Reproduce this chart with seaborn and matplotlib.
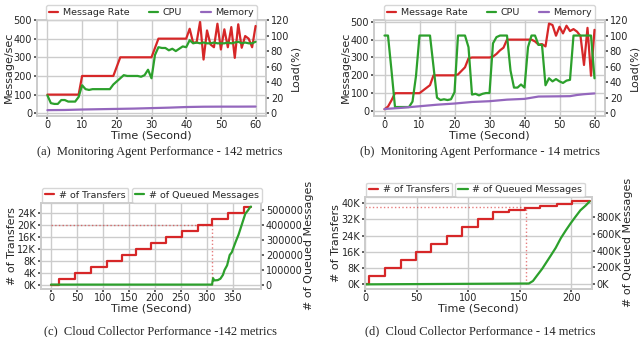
import numpy as np
import pandas as pd
import matplotlib
matplotlib.use('Agg')
import matplotlib.pyplot as plt
import seaborn as sns
from matplotlib.ticker import FuncFormatter

# (a) monitoring agent, 142 metrics
t_ab = list(range(61))
rate_a = [100, 100, 100, 100, 100, 100, 100, 100, 100, 100,
          200, 200, 200, 200, 200, 200, 200, 200, 200, 200,
          250, 300, 300, 300, 300, 300, 300, 300, 300, 300, 300,
          350, 400, 400, 400, 400, 400, 400, 400, 400, 400,
          453, 378, 380, 491, 288, 444, 369, 354, 480, 342,
          450, 354, 462, 297, 477, 351, 414, 400, 354, 468]
cpu_a = [23, 13, 12, 12, 17, 17, 15, 15, 15, 21,
         36, 31, 30, 31, 31, 31, 31, 31, 31, 37,
         41, 45, 49, 48, 48, 48, 48, 47, 49, 56,
         45, 75, 85, 84, 84, 81, 83, 80, 83, 86,
         85, 94, 90, 91, 90, 91, 90, 90, 91, 90,
         90, 90, 91, 90, 91, 92, 90, 91, 90, 90, 92]
mem_t_a = [0, 5, 10, 15, 20, 25, 30, 35, 40, 45, 50, 55, 60]
mem_a = [4.0, 4.2, 4.8, 5.2, 5.6, 6.0, 6.6, 7.2, 8.0, 8.4, 8.5, 8.5, 8.6]

# (b) monitoring agent, 14 metrics
rate_b = [10, 25, 60, 100, 100, 100, 100, 100, 100, 100,
          100, 115, 130, 145, 200, 200, 200, 200, 200, 200,
          200, 205, 225, 245, 295, 300, 300, 300, 300, 300,
          300, 305, 320, 340, 355, 400, 400, 400, 400, 400,
          400, 400, 400, 390, 372, 375, 362, 490, 482, 422,
          472, 435, 478, 448, 459, 445, 420, 258, 466, 198, 455]
cpu_b = [100, 100, 55, 8, 8, 8, 8, 8, 15, 48,
         100, 100, 100, 100, 60, 20, 17, 18, 17, 18,
         27, 100, 100, 100, 85, 24, 25, 23, 25, 26,
         26, 90, 98, 100, 100, 100, 55, 33, 33, 37,
         33, 85, 100, 100, 88, 88, 36, 45, 41, 44,
         41, 39, 42, 43, 100, 100, 100, 100, 100, 100, 45]
mem_t_b = [0, 5, 10, 15, 20, 25, 30, 35, 40, 44, 50, 53, 55, 57, 60]
mem_b = [5.5, 7.0, 9.0, 11.0, 12.5, 14.5, 15.5, 17.5, 18.5, 21.5, 21.8, 22.0, 23.5, 24.5, 25.5]

# (c) cloud collector, 142 metrics
tr_t_c = [0, 16, 46, 77, 107, 136, 164, 193, 222, 253, 283, 310, 340, 372, 385]
tr_c = [0, 2000, 4000, 6000, 8000, 10000, 12000, 14000, 16000, 18000,
        20000, 22000, 24000, 26000, 26000]
q_t_c = [0, 310, 312, 314, 321, 326, 331, 334, 339, 344, 348, 352, 356,
         361, 364, 369, 374, 379, 383, 385]
q_c = [0, 0, 43000, 28000, 30000, 39000, 65000, 97000, 129000, 198000,
       216000, 254000, 291000, 334000, 366000, 420000, 474000, 496000,
       517000, 522000]
mark_c = (310, 20000)

# (d) cloud collector, 14 metrics
tr_t_d = [0, 4, 19.5, 34.5, 49.5, 64.5, 79.5, 94.5, 109.5, 124.5, 139.5,
          155, 170, 186, 201, 218]
tr_d = [0, 4000, 8000, 12000, 16000, 20000, 24000, 28000, 32000, 35800,
        36800, 37600, 38600, 39600, 40800, 40800]
q_t_d = [0, 159, 163, 167, 172, 176, 180, 185, 190, 195, 199.5, 204, 209,
         214, 218]
q_d = [0, 10000, 40000, 105000, 185000, 260000, 335000, 430000, 545000,
       640000, 720000, 795000, 875000, 930000, 980000]
mark_d = (156, 38000)

captions = ['(a)  Monitoring Agent Performance - 142 metrics',
            '(b)  Monitoring Agent Performance - 14 metrics',
            '(c)  Cloud Collector Performance -142 metrics',
            '(d)  Cloud Collector Performance - 14 metrics']

sns.set_theme(style='whitegrid', rc={'xtick.bottom': True, 'ytick.left': True,
                                     'axes.edgecolor': '.8'})
plt.rcParams['font.family'] = ['DejaVu Sans']

RED, GREEN, PURPLE = '#d62728', '#2ca02c', '#9467bd'
TICK, LAB, LEG = 7, 8, 6.8

fig = plt.figure(figsize=(6.4, 3.37), dpi=100)


def style_axes(ax, ax2):
    ax2.grid(False)
    for a in (ax, ax2):
        a.tick_params(labelsize=TICK, pad=1, length=2.5, color='.3')
    ax.xaxis.labelpad = 0
    ax.yaxis.labelpad = 0
    ax2.yaxis.labelpad = 1


def agent_panel(rect, rate, cpu, mem_t, mem, ylim_l, ylim_r):
    ax = fig.add_axes(rect)
    ax2 = ax.twinx()
    sns.lineplot(x=t_ab, y=rate, ax=ax, color=RED, lw=1.6, label='Message Rate', legend=False)
    sns.lineplot(x=t_ab, y=cpu, ax=ax2, color=GREEN, lw=1.6, label='CPU', legend=False)
    sns.lineplot(x=mem_t, y=mem, ax=ax2, color=PURPLE, lw=1.6, label='Memory', legend=False)
    ax.set_ylim(*ylim_l)
    ax2.set_ylim(*ylim_r)
    ax.set_yticks([0, 100, 200, 300, 400, 500])
    ax2.set_yticks([0, 20, 40, 60, 80, 100, 120])
    ax.set_xticks([0, 10, 20, 30, 40, 50, 60])
    ax.set_xlabel('Time (Second)', fontsize=LAB)
    ax.set_ylabel('Message/sec', fontsize=LAB)
    ax2.set_ylabel('Load(%)', fontsize=LAB)
    style_axes(ax, ax2)
    h1, l1 = ax.get_legend_handles_labels()
    h2, l2 = ax2.get_legend_handles_labels()
    ax2.legend(h1 + h2, l1 + l2, loc='lower center', bbox_to_anchor=(0.5, 0.99),
               ncol=3, fontsize=LEG, handlelength=1.0, columnspacing=2.0,
               handletextpad=0.5, borderaxespad=0.1, borderpad=0.3, frameon=True)
    return ax, ax2


def collector_panel(rect, tr_t, tr, q_t, q, mark, xlim, xticks, yticks_l, yticks_r,
                    fmt_r, leg2_x):
    ax = fig.add_axes(rect)
    ax2 = ax.twinx()
    sns.lineplot(x=tr_t, y=tr, ax=ax, color=RED, lw=1.6, drawstyle='steps-post',
                 label='# of Transfers', legend=False)
    sns.lineplot(x=q_t, y=q, ax=ax2, color=GREEN, lw=1.6,
                 label='# of Queued Messages', legend=False)
    ax.plot([0, mark[0]], [mark[1], mark[1]], ls=':', color=RED, lw=1.0, alpha=0.6)
    ax.plot([mark[0], mark[0]], [0, mark[1]], ls=':', color=RED, lw=1.0, alpha=0.6)
    if xlim is not None:
        ax.set_xlim(*xlim)
    ax.set_xticks(xticks)
    ax.set_yticks(yticks_l)
    ax2.set_yticks(yticks_r)
    ax.yaxis.set_major_formatter(FuncFormatter(lambda v, p: f'{int(v / 1000)}K'))
    ax2.yaxis.set_major_formatter(FuncFormatter(fmt_r))
    ax.set_xlabel('Time (Second)', fontsize=LAB)
    ax.set_ylabel('# of Transfers', fontsize=LAB)
    ax2.set_ylabel('# of Queued Messages', fontsize=LAB)
    style_axes(ax, ax2)
    ax.legend(loc='lower left', bbox_to_anchor=(0.0, 0.99), fontsize=LEG,
              handlelength=1.0, handletextpad=0.5, borderaxespad=0.1, borderpad=0.3)
    ax2.legend(loc='lower left', bbox_to_anchor=(leg2_x, 0.99), fontsize=LEG,
               handlelength=1.0, handletextpad=0.5, borderaxespad=0.1, borderpad=0.3)
    return ax, ax2


def rect(left, top, right, bottom):
    return [left / 640, 1 - bottom / 337, (right - left) / 640, (bottom - top) / 337]


agent_panel(rect(37, 20, 266, 115.5), rate_a, cpu_a, mem_t_a, mem_a,
            (-12, 500), (-2.9, 120))
agent_panel(rect(374, 20, 605, 115.5), rate_b, cpu_b, mem_t_b, mem_b,
            (-25, 510), (-2.9, 120))
collector_panel(rect(41, 202.7, 261, 288.5), tr_t_c, tr_c, q_t_c, q_c, mark_c,
                None, [0, 50, 100, 150, 200, 250, 300, 350],
                [0, 4000, 8000, 12000, 16000, 20000, 24000],
                [0, 100000, 200000, 300000, 400000, 500000],
                lambda v, p: f'{int(v)}', 0.41)
collector_panel(rect(365, 197.3, 591.7, 288.5), tr_t_d, tr_d, q_t_d, q_d, mark_d,
                (0, 220), [0, 50, 100, 150, 200],
                [0, 8000, 16000, 24000, 32000, 40000],
                [0, 200000, 400000, 600000, 800000],
                lambda v, p: f'{int(v / 1000)}K', 0.395)

for x, y, s in zip([0.25, 0.75, 0.25, 0.75], [1 - 152 / 337, 1 - 152 / 337, 1 - 331 / 337, 1 - 331 / 337], captions):
    fig.text(x, y, s, ha='center', va='center', fontsize=9, family='Liberation Serif')

fig.savefig('out.png', dpi=100)
